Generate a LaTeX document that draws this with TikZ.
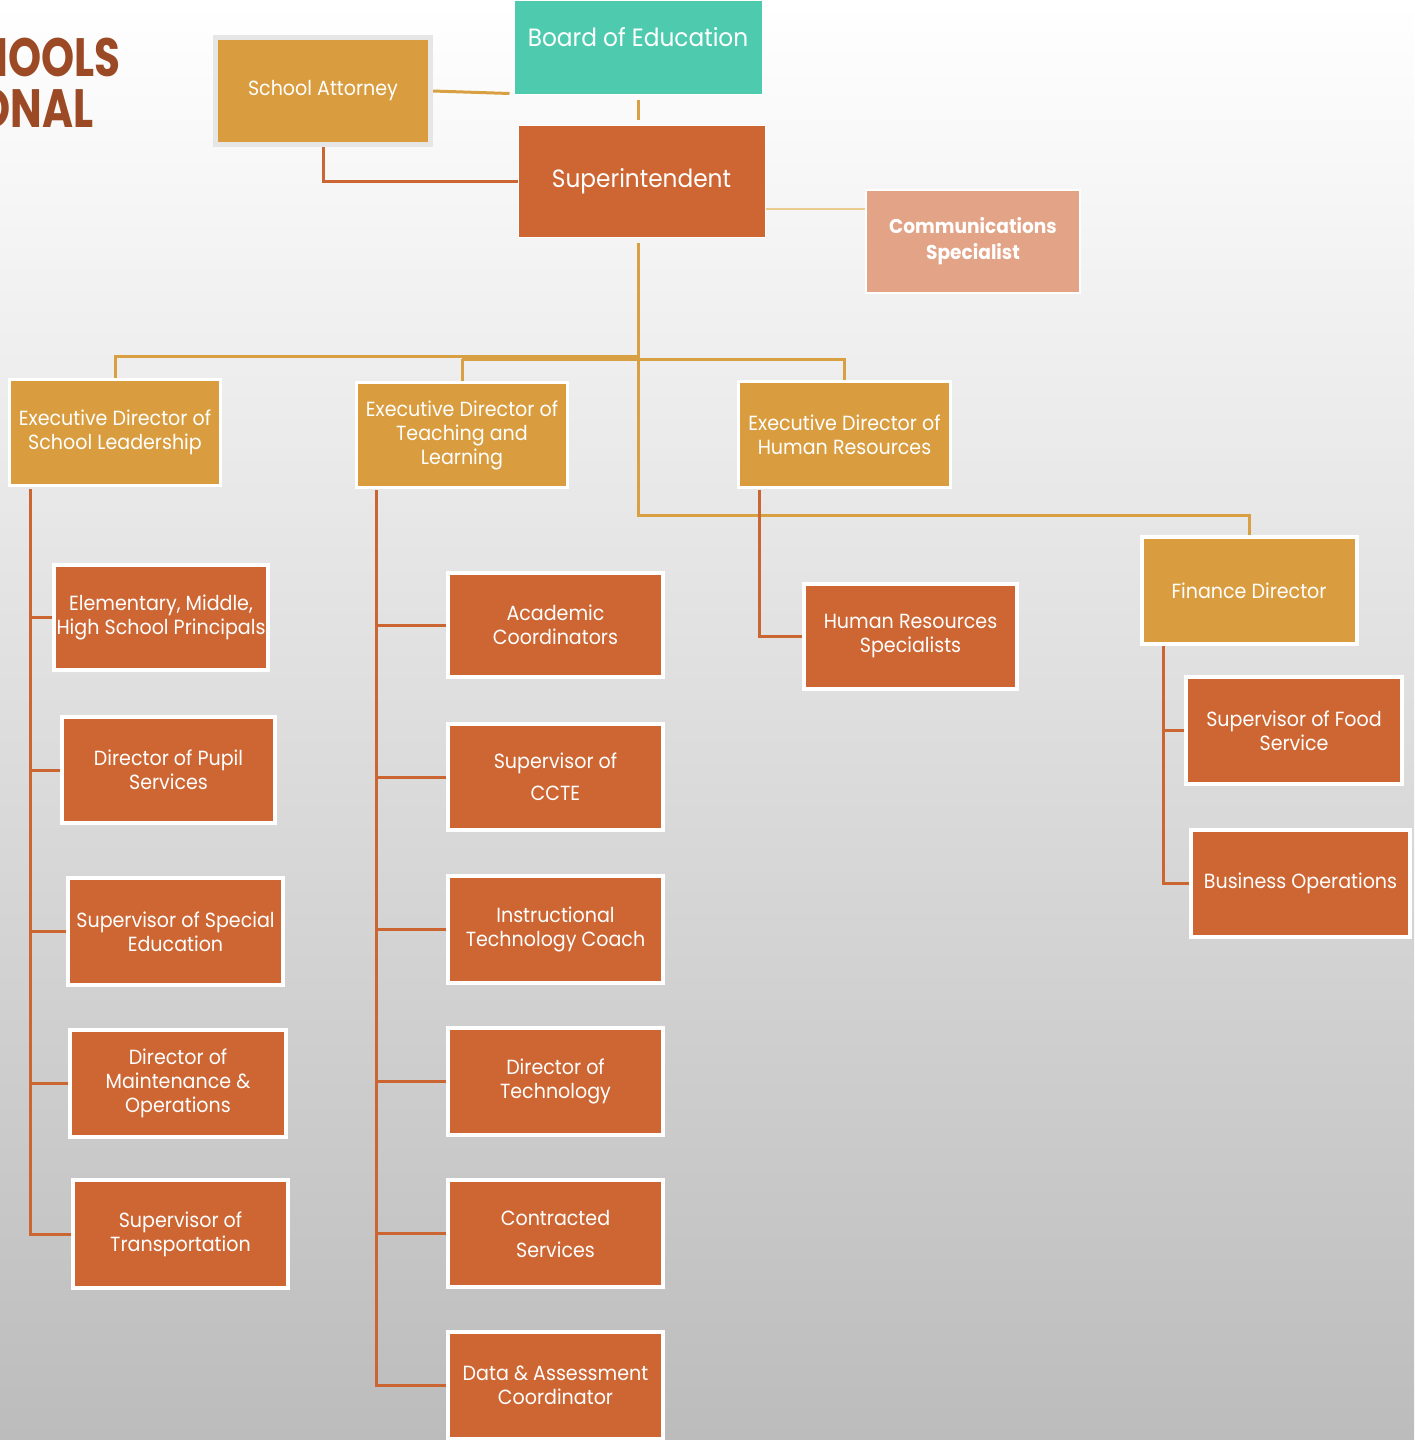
\documentclass[tikz,border=0pt]{standalone}
\usepackage{fontspec}
\setmainfont{Poppins}[FakeStretch=0.93]
\newfontfamily\titlefont{Poppins}[FakeStretch=0.78]
\usetikzlibrary{calc}
\definecolor{cGold}{RGB}{217,157,63}
\definecolor{cOrng}{RGB}{205,102,51}
\definecolor{cTeal}{RGB}{78,203,174}
\definecolor{cSalmon}{RGB}{226,163,134}
\definecolor{cBrown}{RGB}{156,74,37}
\definecolor{cGline}{RGB}{217,160,67}
\definecolor{cOline}{RGB}{203,101,50}
\definecolor{cLline}{RGB}{235,203,142}
\definecolor{cAttb}{RGB}{230,230,230}
\definecolor{cBgmid}{RGB}{234,234,234}
\definecolor{cBgbot}{RGB}{188,188,188}
\pgfdeclarelayer{bg}
\pgfdeclarelayer{lines}
\pgfsetlayers{bg,lines,main}
\begin{document}
\begin{tikzpicture}[x=1pt,y=-1pt,
  box/.style={rectangle, draw=white, line width=3.5pt, text=white, align=center, inner sep=0pt,
    font=\fontsize{20.5}{24}\selectfont},
  gbox/.style={box, fill=cGold},
  obox/.style={box, fill=cOrng},
  glink/.style={draw=cGline, line width=3pt},
  olink/.style={draw=cOline, line width=3pt},
  llink/.style={draw=cLline, line width=2pt},
  ttl/.style={anchor=base east, text=cBrown, inner sep=0pt,
    font=\titlefont\bfseries\fontsize{54}{54}\selectfont}
]
\useasboundingbox (0,0) rectangle (1414,1440);
\clip (0,0) rectangle (1414,1440);
\begin{pgfonlayer}{bg}
  \shade[top color=white, middle color=cBgmid, bottom color=cBgbot] (0,0) rectangle (1414,1440);
\end{pgfonlayer}

% title (cut by the left edge)
\node[ttl] (title1) at (121,76) {HOOLS};
\node[ttl] (title2) at (94,127) {ONAL};

% top level
\node[box, fill=cTeal, line width=1pt, minimum width=248pt, minimum height=94pt] (board) at (638,47) {};
\node[text=white, inner sep=0pt, font=\fontsize{25}{30}\selectfont] (boardtxt) at (638,37) {Board of Education};
\node[box, draw=cAttb, line width=4.5pt, fill=cGold, minimum width=215pt, minimum height=107pt] (att) at (323,91) {School Attorney};
\node[obox, line width=1pt, minimum width=247pt, minimum height=112pt, font=\fontsize{25}{32}\selectfont] (super) at (641.5,181) {Superintendent};
\node[box, fill=cSalmon, line width=1.5pt, minimum width=214pt, minimum height=103pt,
  font=\bfseries\fontsize{20}{26}\selectfont] (comm) at (973,241.5) {Communications\\Specialist};

% executive level
\node[gbox, line width=3pt, minimum width=211pt, minimum height=106pt] (esl) at (115,432.5) {Executive Director of\\School Leadership};
\node[gbox, line width=3pt, minimum width=211pt, minimum height=105pt] (etl) at (462,435) {Executive Director of\\Teaching and\\Learning};
\node[gbox, line width=3pt, minimum width=212pt, minimum height=106pt] (ehr) at (844.5,434.5) {Executive Director of\\Human Resources};
\node[gbox, line width=4pt, minimum width=215pt, minimum height=107pt] (fin) at (1249,590.5) {Finance Director};

% school leadership column
\node[obox, minimum width=214pt, minimum height=105pt] (c1) at (161,617.5) {Elementary, Middle,\\High School Principals};
\node[obox, minimum width=213pt, minimum height=106pt] (c2) at (168.5,770) {Director of Pupil\\Services};
\node[obox, minimum width=215pt, minimum height=107pt] (c3) at (175.5,931.5) {Supervisor of Special\\Education};
\node[obox, minimum width=216pt, minimum height=107pt] (c4) at (178,1083.5) {Director of\\Maintenance \&\\Operations};
\node[obox, minimum width=215pt, minimum height=108pt] (c5) at (180.5,1234) {Supervisor of\\Transportation};

% teaching and learning column
\node[obox, minimum width=215pt, minimum height=104pt] (m1) at (555.5,625) {Academic\\Coordinators};
\node[obox, minimum width=215pt, minimum height=106pt] (m2) at (555.5,777) {Supervisor of\\[8pt]CCTE};
\node[obox, minimum width=215pt, minimum height=107pt] (m3) at (555.5,929.5) {Instructional\\Technology Coach};
\node[obox, minimum width=215pt, minimum height=107pt] (m4) at (555.5,1081.5) {Director of\\Technology};
\node[obox, minimum width=215pt, minimum height=107pt] (m5) at (555.5,1233.5) {Contracted\\[8pt]Services};
\node[obox, minimum width=215pt, minimum height=107pt] (m6) at (555.5,1385.5) {Data \& Assessment\\Coordinator};

% human resources and finance
\node[obox, minimum width=213pt, minimum height=105pt] (hrs) at (910.5,636.5) {Human Resources\\Specialists};
\node[obox, minimum width=216pt, minimum height=107pt] (food) at (1294,730.5) {Supervisor of Food\\Service};
\node[obox, minimum width=219pt, minimum height=107pt] (biz) at (1300.5,883.5) {Business Operations};

% connectors
\begin{pgfonlayer}{lines}
  \draw[glink] (att.east) -- ($(board.south west)+(-4,-1)$);
  \draw[olink] (att.south) |- (super.west);
  \draw[glink] ($(board.south)+(0,5)$) -- ($(super.north -| board.south)+(0,-5)$);
  \coordinate (cs) at ($(super.east)+(0,28)$);
  \draw[llink] (cs) -- (cs -| comm.west);

  \coordinate (tk) at ($(super.south -| board.south)+(0,5)$);
  \coordinate (j1) at (638,356);
  \coordinate (j2) at (461,359);
  \coordinate (j3) at (638,515);
  \draw[glink] (tk) -- (j3) -| (fin.north);
  \draw[glink] (j1) -| (esl.north);
  \draw[glink] (etl.north |- j2) -| (ehr.north);
  \draw[glink] (etl.north |- j2) -- (etl.north);

  \coordinate (lb) at (30,489);
  \draw[olink] (lb) |- (c5.west);
  \foreach \n in {c1,c2,c3,c4} \draw[olink] (\n.west) -- (\n.west -| lb);

  \coordinate (mb) at (376,490);
  \draw[olink] (mb) |- (m6.west);
  \foreach \n in {m1,m2,m3,m4,m5} \draw[olink] (\n.west) -- (\n.west -| mb);

  \coordinate (hb) at (759,490);
  \draw[olink] (hb) |- (hrs.west);

  \coordinate (fb) at (1163,646);
  \draw[olink] (fb) |- (biz.west);
  \draw[olink] (food.west) -- (food.west -| fb);
\end{pgfonlayer}
\end{tikzpicture}
\end{document}
